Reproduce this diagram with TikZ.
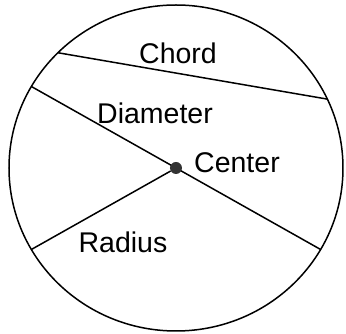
\documentclass[tikz,border=0pt]{standalone}
\usepackage{fontspec}
\setmainfont{Liberation Sans}
\usetikzlibrary{calc}
\tikzset{
  rim/.style   = {line width=1.5pt},
  wire/.style  = {line width=1.5pt},
  dot/.style   = {circle, fill=black!80, inner sep=0pt, minimum size=12pt},
  lbl/.style   = {font=\fontsize{28.5}{32}\selectfont, inner sep=0pt},
}

\begin{document}
\begin{tikzpicture}[x=1pt,y=1pt]
  \useasboundingbox (-176,-166) rectangle (170,168);
  \draw[rim] (0,0) ellipse [x radius=167pt, y radius=163pt];
  % points on the rim
  \coordinate (chA) at (135:167pt and 163pt);
  \coordinate (chB) at (25:167pt and 163pt);
  \coordinate (diA) at (150:167pt and 163pt);
  \coordinate (diB) at (330:167pt and 163pt);
  \coordinate (raA) at (210:167pt and 163pt);
  \draw[wire] (chA) -- (chB);
  \draw[wire] (diA) -- (diB);
  \node[dot] (ctr) at (0,0) {};
  \draw[wire] (ctr) -- (raA);
  \node[lbl] (chord) at (2,115) {Chord};
  \node[lbl] (diam) at (-21,55) {Diameter};
  \node[lbl] (cname) at (61,5) {Center};
  \node[lbl] (rad) at (-53,-74) {Radius};
\end{tikzpicture}
\end{document}
